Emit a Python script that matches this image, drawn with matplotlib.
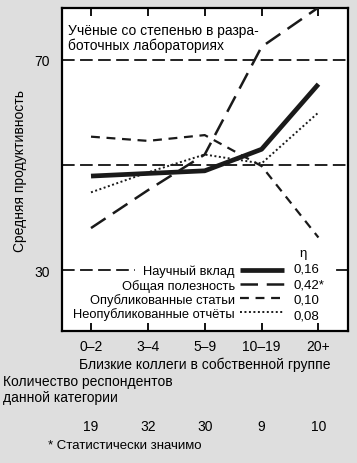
import numpy as np
import matplotlib
matplotlib.use('Agg')
import matplotlib.pyplot as plt

plt.rcParams['font.family'] = ['Liberation Sans', 'DejaVu Sans']

groups = ['0–2', '3–4', '5–9', '10–19', '20+']
respondents = [19, 32, 30, 9, 10]

contribution = [47.9, 48.4, 48.9, 53.0, 65.4]   # Научный вклад
usefulness = [38.0, 45.2, 52.0, 72.5, 80.0]     # Общая полезность
published = [55.4, 54.6, 55.7, 49.8, 36.2]      # Опубликованные статьи
unpublished = [44.8, 48.6, 52.0, 50.3, 60.0]    # Неопубликованные отчёты

labels = ['Научный вклад', 'Общая полезность', 'Опубликованные статьи',
          'Неопубликованные отчёты']
eta = ['0,16', '0,42*', '0,10', '0,08']
ref_levels = [70, 50]
low_level = 30

fig = plt.figure(figsize=(3.57, 4.64), dpi=100, facecolor='#dedede')
ax = fig.add_axes([62/357, 1 - 332/464, 286/357, 323/464])
ax.set_facecolor('white')

x = np.arange(len(groups))
for lev in ref_levels:
    ax.axhline(lev, color='#111111', lw=1.3, dashes=(7, 3), zorder=1)
# the 30 line is broken by the legend
ax.axhline(low_level, xmax=0.255, color='#111111', lw=1.3, dashes=(7, 3), zorder=1)
ax.axhline(low_level, xmin=0.96, color='#111111', lw=1.3, zorder=1)

ax.plot(x, contribution, color='#1a1a1a', lw=3.4, solid_capstyle='butt', label=labels[0], zorder=3)
ax.plot(x, usefulness, color='#1a1a1a', lw=1.8, dashes=(7, 3.5), label=labels[1], zorder=3)
ax.plot(x, published, color='#1a1a1a', lw=1.6, dashes=(4, 3), label=labels[2], zorder=3)
ax.plot(x, unpublished, color='#1a1a1a', lw=1.4, dashes=(1, 1.3), label=labels[3], zorder=3)

ax.set_xlim(-0.51, 4.52)
ax.set_ylim(18.4, 79.9)
ax.set_xticks(x)
ax.set_xticklabels(groups, fontsize=10)
ax.set_yticks([30, 70])
ax.tick_params(axis='y', length=0, pad=9, labelsize=10)
ax.tick_params(axis='x', direction='in', length=6, width=1.3, top=True, pad=6)
for s in ax.spines.values():
    s.set_linewidth(1.6)

ax.set_ylabel('Средняя продуктивность', fontsize=10, labelpad=5)
ax.set_xlabel('Близкие коллеги в собственной группе', fontsize=10, labelpad=2)

ax.text(0.02, 0.955, 'Учёные со степенью в разра-\nботочных лабораториях',
        transform=ax.transAxes, ha='left', va='top', fontsize=10, linespacing=1.1)

leg = ax.legend(loc='lower right', bbox_to_anchor=(0.785, 0.026), markerfirst=False,
                frameon=False, fontsize=9.3, handlelength=3.4, handletextpad=0.4,
                labelspacing=0.1, borderpad=0.2, borderaxespad=0)

ax.text(0.83, 0.242, 'η', transform=ax.transAxes, ha='left', va='center', fontsize=9.5)
for i, v in enumerate(eta):
    ax.text(0.808, 0.193 - i * 0.048, v, transform=ax.transAxes, ha='left',
            va='center', fontsize=9.5, zorder=5)

fig.text(3/357, 1 - 390/464, 'Количество респондентов\nданной категории',
         ha='left', va='center', fontsize=10, linespacing=1.2)
for xi, n in zip(x, respondents):
    ax.annotate(str(n), xy=(xi, 0), xycoords=('data', 'axes fraction'),
                xytext=(0, -95), textcoords='offset pixels', ha='center',
                va='center', fontsize=10, annotation_clip=False)
fig.text(48/357, 1 - 446/464, '* Статистически значимо', ha='left', va='center', fontsize=9.5)

plt.savefig('out.png', dpi=100, facecolor=fig.get_facecolor())
